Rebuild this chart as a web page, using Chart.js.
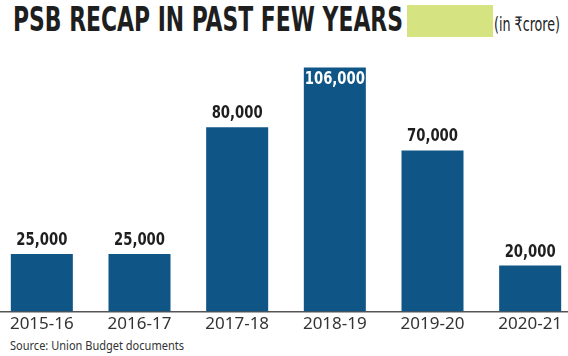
<!DOCTYPE html>
<html>
<head>
<meta charset="utf-8">
<script src="https://cdn.jsdelivr.net/npm/chart.js@4/dist/chart.umd.min.js"></script>
<style>
  html, body { margin: 0; padding: 0; background: #fff; }
  #wrap { position: relative; width: 568px; height: 356px; overflow: hidden; }
  .fit { position: absolute; white-space: nowrap; transform-origin: 0 0; }
  #title {
    left: 13px; top: 0; font-family: "DejaVu Sans Condensed", "DejaVu Sans";
    font-weight: bold; font-size: 33px; color: #1e1e1e;
  }
  #tag { position: absolute; left: 407px; top: 5px; width: 86px; height: 32px; background: #d6e381; }
  #unit {
    left: 494px; top: 12px; font-family: "DejaVu Sans Condensed", "DejaVu Sans";
    font-size: 20px; color: #222;
  }
  #source {
    left: 10px; top: 336px; font-family: "Noto Sans"; font-size: 13px; color: #333;
  }
  #chartBox { position: absolute; left: -7px; top: 0; width: 586px; height: 336px; }
</style>
</head>
<body>
<div id="wrap">
  <div id="title" class="fit" data-w="390">PSB RECAP IN PAST FEW YEARS</div>
  <div id="tag"></div>
  <div id="unit" class="fit" data-w="66">(in ₹crore)</div>
  <div id="chartBox"><canvas id="recapChart"></canvas></div>
  <div id="source" class="fit" data-w="174">Source: Union Budget documents</div>
</div>
<script>
// data
const years = ['2015-16', '2016-17', '2017-18', '2018-19', '2019-20', '2020-21'];
const recap = [25000, 25000, 80000, 106000, 70000, 20000];
const valueLabels = ['25,000', '25,000', '80,000', '106,000', '70,000', '20,000'];

// squeeze condensed text to the width it has in the reference
function fitText() {
  document.querySelectorAll('.fit').forEach(el => {
    const w = el.getBoundingClientRect().width;
    el.style.transform = 'scaleX(' + (Number(el.dataset.w) / w) + ')';
  });
}

// value labels above bars (inside for the tallest one)
const barLabels = {
  id: 'barLabels',
  afterDatasetsDraw(chart) {
    const ctx = chart.ctx;
    const meta = chart.getDatasetMeta(0);
    const maxVal = Math.max(...recap);
    ctx.save();
    ctx.textAlign = 'center';
    ctx.textBaseline = 'alphabetic';
    ctx.font = 'bold 18px "DejaVu Sans Condensed", "DejaVu Sans"';
    const sx = 51 / ctx.measureText('25,000').width;
    meta.data.forEach((bar, i) => {
      const inside = recap[i] === maxVal;
      ctx.fillStyle = inside ? '#ffffff' : '#1e1e1e';
      const y = inside ? bar.y + 16 : bar.y - 9;
      ctx.save();
      ctx.translate(bar.x, y);
      ctx.scale(sx, 1);
      ctx.fillText(valueLabels[i], 0, 0);
      ctx.restore();
    });
    ctx.restore();
  }
};

document.addEventListener('DOMContentLoaded', () => {
  fitText();
  const ctx = document.getElementById('recapChart');
  new Chart(ctx, {
    type: 'bar',
    data: {
      labels: years,
      datasets: [{
        data: recap,
        backgroundColor: '#0f5686',
        categoryPercentage: 1,
        barPercentage: 0.635
      }]
    },
    options: {
      responsive: true,
      maintainAspectRatio: false,
      animation: false,
      layout: { padding: { top: 50, bottom: 0, left: 0, right: 0 } },
      plugins: { legend: { display: false }, tooltip: { enabled: false } },
      scales: {
        x: {
          grid: { display: false, drawTicks: false },
          border: { display: true, color: '#555', width: 1.5 },
          ticks: {
            color: '#333',
            padding: 2,
            font: { family: '"Noto Sans"', size: 17 }
          }
        },
        y: {
          display: false,
          min: 0,
          max: 113600
        }
      }
    },
    plugins: [barLabels]
  });
});
</script>
</body>
</html>
